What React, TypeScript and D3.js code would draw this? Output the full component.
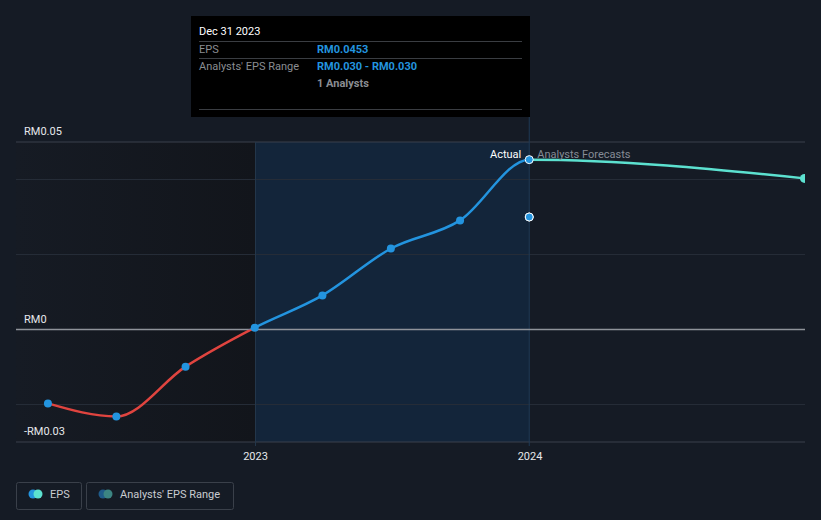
import React from "react";
import * as d3 from "d3";

const actualDates = ["2022-03-31", "2022-06-30", "2022-09-30", "2022-12-31", "2023-03-31", "2023-06-30", "2023-09-30", "2023-12-31"];
const actualEps = [-0.0197, -0.0232, -0.0099, 0.0005, 0.0091, 0.0216, 0.0291, 0.0453];
const forecastDates = ["2023-12-31", "2024-12-31"];
const forecastEps = [0.0453, 0.0403];
const rangeDates = ["2023-12-31"];
const rangeLow = [0.03];
const rangeHigh = [0.03];
const yTickValues = [0.05, 0, -0.03];
const yTickLabels = ["RM0.05", "RM0", "-RM0.03"];
const gridValues = [0.04, 0.02, -0.02];
const xTickDates = ["2023-01-01", "2024-01-01"];
const xTickLabels = ["2023", "2024"];

const W = 821, H = 520;
const L = 16, R = 805, T = 142, B = 442;
const FONT = "Roboto, 'Noto Sans', sans-serif";

export default function App() {
  const parse = d3.utcParse("%Y-%m-%d");
  const x = d3.scaleUtc().domain([parse("2023-01-01")!, parse("2024-01-01")!]).range([255.5, 530]);
  const y = d3.scaleLinear().domain([-0.03, 0.05]).range([B, T]);

  const allPts = actualDates.map((d, i) => ({ d: parse(d)!, v: actualEps[i] }))
    .concat(forecastDates.slice(1).map((d, i) => ({ d: parse(d)!, v: forecastEps[i + 1] })));
  const line = d3.line<{ d: Date; v: number }>().x(p => x(p.d)).y(p => y(p.v)).curve(d3.curveMonotoneX);
  const path = line(allPts) || "";
  const xNow = x(parse(actualDates[actualDates.length - 1])!);
  const x2023 = x(parse("2023-01-01")!);
  const y0 = y(0);

  return (
    <div style={{ position: "fixed", left: 0, top: 0 }}>
      <svg width={W} height={H} style={{ display: "block", background: "#151b25", fontFamily: FONT }}>
        <defs>
          <linearGradient id="leftShade" x1="0" x2="1" y1="0" y2="0">
            <stop offset="0" stopColor="#161b24" />
            <stop offset="1" stopColor="#12151b" />
          </linearGradient>
          <clipPath id="clipBlue"><rect x={0} y={0} width={xNow} height={y0} /></clipPath>
          <clipPath id="clipRed"><rect x={0} y={y0} width={xNow} height={H - y0} /></clipPath>
          <clipPath id="clipTeal"><rect x={xNow} y={0} width={R - xNow} height={H} /></clipPath>
          <clipPath id="clipPlot"><rect x={L} y={0} width={R - L} height={H} /></clipPath>
        </defs>
        <rect x={L} y={T} width={x2023 - L} height={B - T} fill="url(#leftShade)" />
        <rect x={x2023} y={T} width={xNow - x2023} height={B - T} fill="#13253a" />
        {gridValues.map(v => (
          <line key={v} x1={L} x2={R} y1={y(v)} y2={y(v)} stroke="#252c37" strokeWidth={1} />
        ))}
        <line x1={L} x2={R} y1={T} y2={T} stroke="#3a414d" strokeWidth={1} />
        <line x1={L} x2={R} y1={B} y2={B} stroke="#3a414d" strokeWidth={1} />
        <line x1={x2023} x2={x2023} y1={T} y2={B + 4} stroke="#23364a" strokeWidth={1} />
        <line x1={xNow} x2={xNow} y1={16} y2={B + 4} stroke="#1f3a56" strokeWidth={1} />
        <line x1={L} x2={R} y1={y0} y2={y0} stroke="#8f939a" strokeWidth={1.5} />
        {yTickValues.map((v, i) => (
          <text key={v} x={24} y={y(v) - 7} fill="#e6e8eb" fontSize={11}>{yTickLabels[i]}</text>
        ))}
        {xTickDates.map((d, i) => (
          <text key={d} x={x(parse(d)!)} y={460} fill="#e6e8eb" fontSize={11} textAnchor="middle">{xTickLabels[i]}</text>
        ))}
        <path d={path} fill="none" stroke="#2394df" strokeWidth={2.5} clipPath="url(#clipBlue)" />
        <path d={path} fill="none" stroke="#e0443f" strokeWidth={2.5} clipPath="url(#clipRed)" />
        <g clipPath="url(#clipPlot)">
          <path d={path} fill="none" stroke="#5ce1d0" strokeWidth={2.5} clipPath="url(#clipTeal)" />
          <circle cx={x(parse(forecastDates[1])!)} cy={y(forecastEps[1])} r={4.5} fill="#5ce1d0" />
        </g>
        {actualDates.slice(0, -1).map((d, i) => (
          <circle key={d} cx={x(parse(d)!)} cy={y(actualEps[i])} r={4} fill="#2394df" />
        ))}
        <circle cx={xNow} cy={y(actualEps[actualEps.length - 1])} r={4} fill="#2394df" stroke="#ffffff" strokeWidth={1} />
        {rangeDates.map((d, i) => (
          <g key={d}>
            <circle cx={x(parse(d)!)} cy={y(rangeLow[i])} r={4} fill="#2394df" stroke="#ffffff" strokeWidth={1} />
            <circle cx={x(parse(d)!)} cy={y(rangeHigh[i])} r={4} fill="#2394df" stroke="#ffffff" strokeWidth={1} />
          </g>
        ))}
        <text x={xNow - 8} y={158} fill="#ffffff" fontSize={11} textAnchor="end">Actual</text>
        <text x={xNow + 8} y={158} fill="#858b95" fontSize={11}>Analysts Forecasts</text>

        <rect x={191} y={16} width={339} height={101} fill="#000000" />
        <text x={199} y={35} fill="#ffffff" fontSize={11}>Dec 31 2023</text>
        <line x1={199} x2={522} y1={41.5} y2={41.5} stroke="#3a3d42" />
        <text x={199} y={53} fill="#8a8d92" fontSize={11}>EPS</text>
        <text x={317} y={53} fill="#2394df" fontSize={11} fontWeight="bold">RM0.0453</text>
        <line x1={199} x2={522} y1={58.5} y2={58.5} stroke="#3a3d42" />
        <text x={199} y={70} fill="#8a8d92" fontSize={11}>Analysts' EPS Range</text>
        <text x={317} y={70} fill="#2394df" fontSize={11} fontWeight="bold">RM0.030 - RM0.030</text>
        <text x={317} y={87} fill="#8a8d92" fontSize={11} fontWeight="bold">1 Analysts</text>
        <line x1={199} x2={522} y1={109.5} y2={109.5} stroke="#3a3d42" />

        <rect x={16.5} y={482.5} width={65} height={27} rx={2} fill="none" stroke="#3a404a" />
        <circle cx={33} cy={494} r={4.5} fill="#2394df" />
        <circle cx={38} cy={494} r={4.5} fill="#5ce1d0" />
        <text x={50} y={498} fill="#c9ccd1" fontSize={11}>EPS</text>
        <rect x={86.5} y={482.5} width={147} height={27} rx={2} fill="none" stroke="#3a404a" />
        <circle cx={103} cy={494} r={4.5} fill="#1f5b8a" />
        <circle cx={108} cy={494} r={4.5} fill="#3c8583" />
        <text x={120} y={498} fill="#c9ccd1" fontSize={11}>Analysts' EPS Range</text>
      </svg>
    </div>
  );
}
